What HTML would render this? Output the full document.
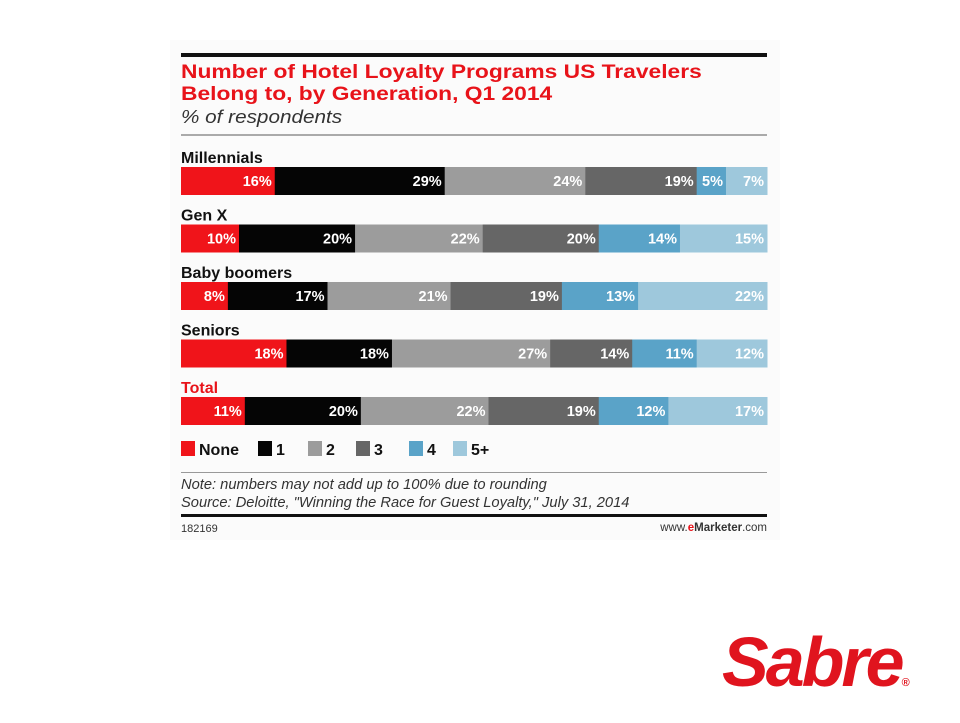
<!DOCTYPE html>
<html><head><meta charset="utf-8"><style>
body{margin:0;width:960px;height:720px;background:#fff;position:relative;overflow:hidden;font-family:"Liberation Sans",sans-serif}
.abs{position:absolute}
</style></head><body>
<div class="abs" style="left:170px;top:40px;width:610px;height:500px;background:#fbfbfb"></div>
<div class="abs" style="left:181px;top:53px;width:586px;height:4px;background:#111"></div>
<div class="abs" style="left:181px;top:62px;font-weight:bold;color:#e8131a;font-size:19px;line-height:22px;transform:scaleX(1.2);transform-origin:0 0;white-space:nowrap">Number of Hotel Loyalty Programs US Travelers<br>Belong to, by Generation, Q1 2014</div>
<div class="abs" style="left:181px;top:107px;font-style:italic;color:#333;font-size:18px;transform:scaleX(1.15);transform-origin:0 0">% of respondents</div>
<div class="abs" style="left:181px;top:134px;width:586px;height:2px;background:#aaa"></div>
<svg class="abs" style="left:0;top:0" width="960" height="720" id="chart"></svg>
<div class="abs" style="left:181px;top:472px;width:586px;height:1px;background:#999"></div>
<div class="abs" style="left:181px;top:476px;font-style:italic;color:#333;font-size:14.7px;line-height:18px">Note: numbers may not add up to 100% due to rounding<br>Source: Deloitte, "Winning the Race for Guest Loyalty," July 31, 2014</div>
<div class="abs" style="left:181px;top:514px;width:586px;height:3px;background:#111"></div>
<div class="abs" style="left:181px;top:523px;color:#333;font-size:11px">182169</div>
<div class="abs" style="left:640px;top:522px;width:127px;text-align:right;color:#333;font-size:11.5px">www.<b style="color:#e8131a">e</b><b>Marketer</b>.com</div>
<div class="abs" style="left:722px;top:622px;font-weight:bold;font-style:italic;color:#e0141e;font-size:70px;letter-spacing:-3px;line-height:80px">Sabre<span style="font-size:11px;font-style:normal;letter-spacing:0;vertical-align:baseline">®</span></div>
<script>
const categories=["Millennials","Gen X","Baby boomers","Seniors","Total"];
const seriesNames=["None","1","2","3","4","5+"];
const sNone=[16,10,8,18,11];
const s1=[29,20,17,18,20];
const s2=[24,22,21,27,22];
const s3=[19,20,19,14,19];
const s4=[5,14,13,11,12];
const s5=[7,15,22,12,17];
const series=[sNone,s1,s2,s3,s4,s5];
const colors=["#f0141a","#050505","#9c9c9c","#666666","#5aa3c8","#9ec8dc"];
const svg=document.getElementById('chart');
const NS="http://www.w3.org/2000/svg";
const x0=181,W=586,rowTop=167,rowStep=57.5,barH=28;
function xs(v,total){return v/total*W;}
function yRow(i){return rowTop+i*rowStep;}
categories.forEach((c,i)=>{
  const lab=document.createElementNS(NS,'text');
  
  
  lab.setAttribute('x',x0);lab.setAttribute('y',yRow(i)-4);
  lab.setAttribute('font-size','16');lab.setAttribute('font-weight','bold');
  lab.setAttribute('fill',c==="Total"?"#e8131a":"#111");
  lab.textContent=c;svg.appendChild(lab);
  let total=0;series.forEach(s=>total+=s[i]);
  let x=x0;
  series.forEach((s,j)=>{
    const w=xs(s[i],total);
    const r=document.createElementNS(NS,'rect');
    
    
    r.setAttribute('x',x);r.setAttribute('y',yRow(i));
    r.setAttribute('width',w+0.5);r.setAttribute('height',barH);
    r.setAttribute('fill',colors[j]);svg.appendChild(r);
    const t=document.createElementNS(NS,'text');
    
    
    t.setAttribute('x',x+w-3);t.setAttribute('y',yRow(i)+19);
    t.setAttribute('text-anchor','end');t.setAttribute('font-size','14.5');
    t.setAttribute('font-weight','bold');t.setAttribute('fill','#fff');
    t.textContent=s[i]+'%';svg.appendChild(t);
    x+=w;
  });
});
const legendX=[181,258,308,356,409,453];
seriesNames.forEach((n,j)=>{
  const r=document.createElementNS(NS,'rect');
  
  
  r.setAttribute('x',legendX[j]);r.setAttribute('y',441);
  r.setAttribute('width',14);r.setAttribute('height',15);
  r.setAttribute('fill',colors[j]);svg.appendChild(r);
  const t=document.createElementNS(NS,'text');
  
  
  t.setAttribute('x',legendX[j]+18);t.setAttribute('y',455);
  t.setAttribute('font-size','16');t.setAttribute('font-weight','bold');
  t.setAttribute('fill','#111');t.textContent=n;svg.appendChild(t);
});
</script>
</body></html>
